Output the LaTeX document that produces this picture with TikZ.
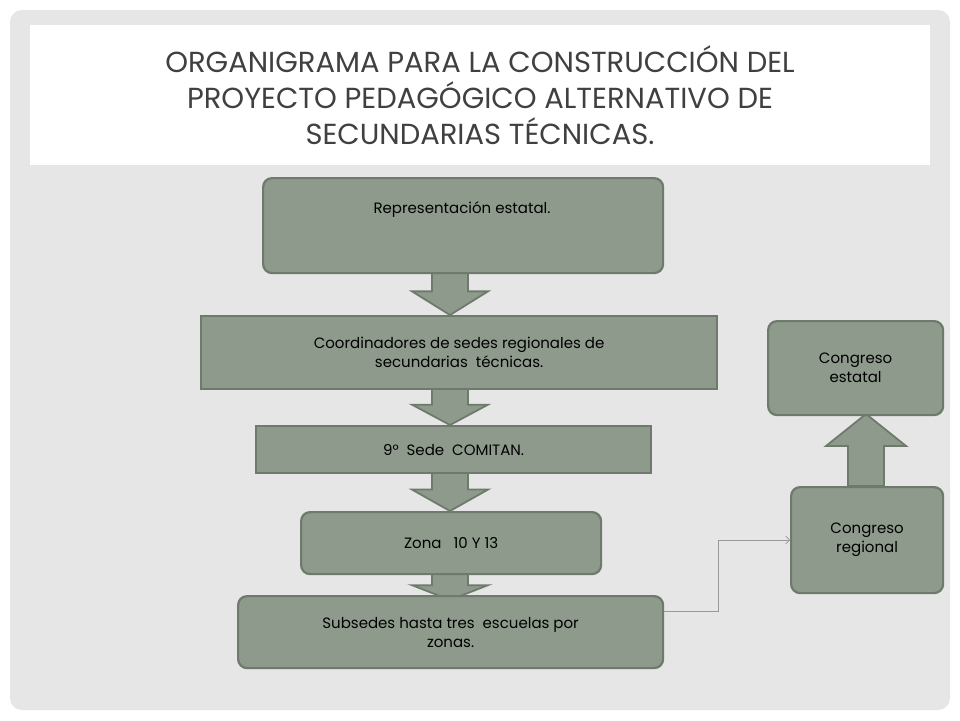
\documentclass[tikz,border=0pt]{standalone}
\usepackage{fontspec}
\setmainfont{Poppins}
\usetikzlibrary{arrows.meta}
\definecolor{boxfill}{HTML}{8E9B8C}
\definecolor{boxline}{HTML}{6E7A6C}
\definecolor{slide}{HTML}{E6E6E6}
\definecolor{titlec}{HTML}{404040}
\tikzset{
 box/.style={draw=boxline,line width=2.2pt,fill=boxfill,font=\fontsize{15}{19}\selectfont,text=black,align=center,anchor=north west,inner sep=0pt},
 rbox/.style={box,rounded corners=9pt},
 barrow/.style={draw=boxline,line width=1.8pt,fill=boxfill},
}
\begin{document}
\begin{tikzpicture}[x=1pt,y=-1pt]
\useasboundingbox (0,0) rectangle (960,720);
\fill[white] (0,0) rectangle (960,720);
\fill[slide,rounded corners=12pt] (10,10) rectangle (950,710);
\fill[white] (30,25) rectangle (930,165);
\node[text=titlec,align=center,font=\fontsize{29}{36}\selectfont] (title) at (480,95)
 {ORGANIGRAMA PARA LA CONSTRUCCIÓN DEL\\PROYECTO PEDAGÓGICO ALTERNATIVO DE\\SECUNDARIAS TÉCNICAS.};
% block arrows
\foreach \a/\b in {272/315,388/425,472/511,573/600}{
 \draw[barrow] (432,\a) -- (468,\a) -- (468,{\a+0.45*(\b-\a)}) -- (488,{\a+0.45*(\b-\a)}) -- (450,\b) -- (412,{\a+0.45*(\b-\a)}) -- (432,{\a+0.45*(\b-\a)}) -- cycle;}
\draw[barrow] (848,486) -- (848,446) -- (826,446) -- (866,414) -- (906,446) -- (884,446) -- (884,486) -- cycle;
% boxes
\node[rbox,minimum width=400pt,minimum height=95pt] (rep) at (262,177) {};
\node[font=\fontsize{15}{19}\selectfont] at (462,210) {Representación estatal.};
\node[box,minimum width=516pt,minimum height=73pt] (coord) at (200,315) {Coordinadores de sedes regionales de\\secundarias\ \ técnicas.};
\node[box,minimum width=395pt,minimum height=47pt] (sede) at (255,425) {9°\ \ Sede\ \ COMITAN.};
\node[rbox,minimum width=300pt,minimum height=62pt] (zona) at (300,511) {Zona\ \ \ 10 Y 13};
\node[rbox,minimum width=425pt,minimum height=72pt] (sub) at (237,595) {Subsedes hasta tres\ \ escuelas por\\zonas.};
\node[rbox,minimum width=175pt,minimum height=94pt] (est) at (767,320) {Congreso\\estatal};
\node[rbox,minimum width=152pt,minimum height=106pt] (reg) at (790,486) {Congreso\\regional};
\draw[gray!80,line width=0.6pt,-{Straight Barb[length=4pt]}] (sub.east |- 0,611) -- (718,611) -- (718,540) -- (reg.west |- 0,540);
\end{tikzpicture}
\end{document}
